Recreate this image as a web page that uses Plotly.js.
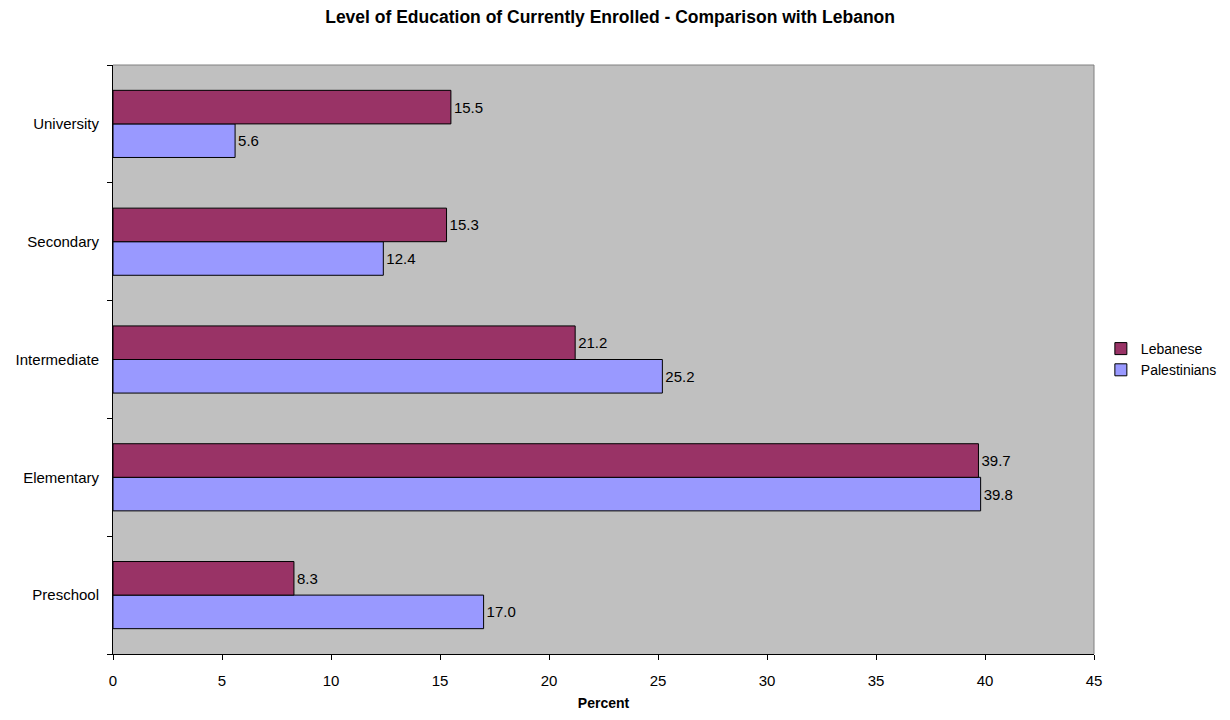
<!DOCTYPE html>
<html>
<head>
<meta charset="utf-8">
<script src="https://cdn.plot.ly/plotly-3.0.1.min.js"></script>
<style>html,body{margin:0;padding:0;background:#fff}#chart{width:1230px;height:720px}</style>
</head>
<body>
<div id="chart"></div>
<script>
const categories = ["Preschool", "Elementary", "Intermediate", "Secondary", "University"];
const lebanese = [8.3, 39.7, 21.2, 15.3, 15.5];
const palestinians = [17.0, 39.8, 25.2, 12.4, 5.6];
const xTicks = [0, 5, 10, 15, 20, 25, 30, 35, 40, 45];

const FAM = "Liberation Sans, Arial, sans-serif";
const font = {family: FAM, size: 15, color: "#000"};

const traces = [
  {
    type: "bar", orientation: "h", name: "Palestinians",
    y: categories, x: palestinians,
    marker: {color: "#9999FF", line: {color: "#000", width: 1}},
    text: palestinians.map(v => v.toFixed(1)), textposition: "outside",
    textfont: font, cliponaxis: false, hoverinfo: "x+y"
  },
  {
    type: "bar", orientation: "h", name: "Lebanese",
    y: categories, x: lebanese,
    marker: {color: "#993366", line: {color: "#000", width: 1}},
    text: lebanese.map(v => v.toFixed(1)), textposition: "outside",
    textfont: font, cliponaxis: false, hoverinfo: "x+y"
  }
];

const layout = {
  width: 1230, height: 720,
  margin: {l: 113, r: 136, t: 65, b: 66, autoexpand: false},
  paper_bgcolor: "#fff", plot_bgcolor: "#C0C0C0",
  font: font,
  title: {text: "<b>Level of Education of Currently Enrolled - Comparison with Lebanon</b>",
          font: {family: FAM, size: 17.5, color: "#000"},
          x: 0.496, xref: "container", y: 0.976, yref: "container", yanchor: "middle"},
  barmode: "group", bargap: 0.43, bargroupgap: 0,
  xaxis: {
    range: [0, 45], tickvals: xTicks, ticktext: xTicks.map(String),
    showgrid: false, zeroline: false, showline: true, linecolor: "#000", linewidth: 1,
    ticks: "outside", ticklen: 5, tickcolor: "#000", tickfont: font, ticklabelstandoff: 8,
    title: {text: "<b>Percent</b>", font: {family: FAM, size: 14, color: "#000"}, standoff: 10},
    fixedrange: true
  },
  yaxis: {
    type: "category", categoryorder: "array", categoryarray: categories,
    showgrid: false, zeroline: false, showline: true, linecolor: "#000", linewidth: 1,
    ticks: "outside", ticklen: 5, tickcolor: "#000", tickson: "boundaries",
    tickfont: font, ticklabelstandoff: 10, fixedrange: true
  },
  legend: {
    x: 1.007, xanchor: "left", y: 0.5, yanchor: "middle",
    traceorder: "reversed", font: {family: FAM, size: 14, color: "#000"}, bgcolor: "rgba(0,0,0,0)"
  },
  shapes: [
    {type: "line", xref: "paper", yref: "paper", x0: 0, x1: 1, y0: 1, y1: 1, line: {color: "#808080", width: 1}},
    {type: "line", xref: "paper", yref: "paper", x0: 1, x1: 1, y0: 0, y1: 1, line: {color: "#808080", width: 1}}
  ]
};

Plotly.newPlot("chart", traces, layout, {displayModeBar: false, staticPlot: true});
</script>
</body>
</html>
